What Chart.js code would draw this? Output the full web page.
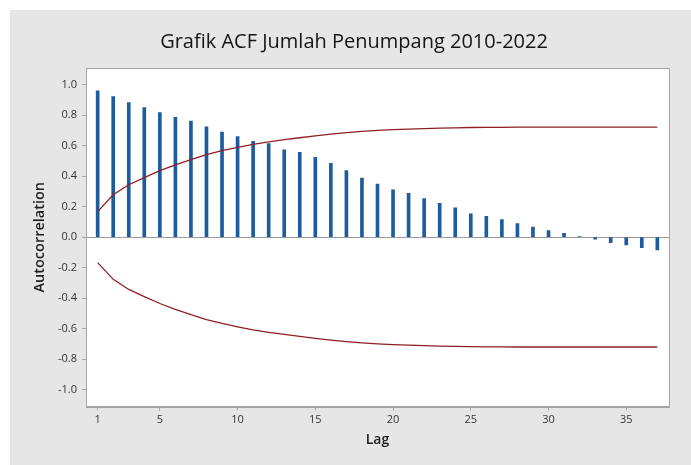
<!DOCTYPE html>
<html>
<head>
<meta charset="utf-8">
<script src="https://cdn.jsdelivr.net/npm/chart.js@4/dist/chart.umd.min.js"></script>
<style>
  html, body { margin: 0; padding: 0; background: #ffffff; }
  #wrap { position: absolute; left: 10px; top: 10px; width: 681px; height: 455px; background: #e6e6e6; }
  canvas { display: block; }
</style>
</head>
<body>
<div id="wrap"><canvas id="acf" width="681" height="455"></canvas></div>
<script>
// Autocorrelation function of monthly passenger counts, lags 1..37
const lags = [1,2,3,4,5,6,7,8,9,10,11,12,13,14,15,16,17,18,19,20,21,22,23,24,25,26,27,28,29,30,31,32,33,34,35,36,37];
const acfValues = [0.959,0.920,0.882,0.849,0.816,0.785,0.761,0.722,0.688,0.658,0.627,0.612,0.572,0.556,0.523,0.484,0.436,0.387,0.348,0.310,0.286,0.253,0.222,0.191,0.152,0.136,0.114,0.088,0.066,0.042,0.024,0.002,-0.013,-0.036,-0.051,-0.069,-0.084];
// 5% significance limits for the autocorrelations
const upperLimit = [0.167,0.277,0.343,0.390,0.435,0.473,0.508,0.540,0.566,0.588,0.608,0.624,0.638,0.651,0.663,0.675,0.685,0.693,0.699,0.704,0.708,0.711,0.714,0.716,0.718,0.719,0.719,0.720,0.720,0.720,0.720,0.720,0.720,0.720,0.720,0.720,0.720];
const lowerLimit = [-0.167,-0.277,-0.343,-0.390,-0.435,-0.473,-0.508,-0.540,-0.566,-0.588,-0.608,-0.624,-0.638,-0.651,-0.663,-0.675,-0.685,-0.693,-0.699,-0.704,-0.708,-0.711,-0.714,-0.716,-0.718,-0.719,-0.719,-0.720,-0.720,-0.720,-0.720,-0.720,-0.720,-0.720,-0.720,-0.720,-0.720];
const xTickValues = [1,5,10,15,20,25,30,35];
const yTickValues = [-1.0,-0.8,-0.6,-0.4,-0.2,0.0,0.2,0.4,0.6,0.8,1.0];
const chartTitle = 'Grafik ACF Jumlah Penumpang 2010-2022';

const pts = (ys) => lags.map((x, i) => ({ x: x, y: ys[i] }));

const FONT = '"Open Sans", "Noto Sans", "DejaVu Sans", sans-serif';
const AXIS_GRAY = '#a6a6a6';

// white plotting area with a thin frame, and the chart heading above it
const plotFrame = {
  id: 'plotFrame',
  beforeDraw(chart) {
    const { ctx, chartArea: a } = chart;
    ctx.save();
    ctx.fillStyle = '#ffffff';
    ctx.fillRect(a.left, a.top, a.right - a.left, a.bottom - a.top);
    ctx.restore();
  },
  afterDraw(chart) {
    const { ctx, chartArea: a } = chart;
    ctx.save();
    ctx.strokeStyle = AXIS_GRAY;
    ctx.lineWidth = 1;
    ctx.strokeRect(Math.round(a.left) + 0.5, Math.round(a.top) + 0.5,
                   Math.round(a.right - a.left), Math.round(a.bottom - a.top));
    ctx.fillStyle = '#151515';
    ctx.font = 'normal 20px ' + FONT;
    ctx.textAlign = 'center';
    ctx.textBaseline = 'middle';
    ctx.fillText(chartTitle, 344, 32);
    ctx.restore();
  }
};

new Chart(document.getElementById('acf'), {
  type: 'bar',
  data: {
    datasets: [
      {
        type: 'bar',
        label: 'ACF',
        data: pts(acfValues),
        backgroundColor: '#1f5c9e',
        borderWidth: 0,
        barThickness: 3,
        order: 2
      },
      {
        type: 'line',
        label: 'Upper limit',
        data: pts(upperLimit),
        borderColor: '#8e1f24',
        borderWidth: 1.3,
        pointRadius: 0,
        tension: 0,
        fill: false,
        order: 1
      },
      {
        type: 'line',
        label: 'Lower limit',
        data: pts(lowerLimit),
        borderColor: '#8e1f24',
        borderWidth: 1.3,
        pointRadius: 0,
        tension: 0,
        fill: false,
        order: 1
      }
    ]
  },
  options: {
    responsive: false,
    animation: false,
    devicePixelRatio: 1,
    layout: { padding: { left: 0, right: 22, top: 58, bottom: 0 } },
    plugins: {
      legend: { display: false },
      tooltip: { enabled: false },
      title: { display: false }
    },
    scales: {
      x: {
        type: 'linear',
        min: 0.25,
        max: 37.75,
        offset: false,
        afterBuildTicks(scale) { scale.ticks = xTickValues.map(v => ({ value: v })); },
        afterFit(scale) { scale.height = 58.5; },
        ticks: {
          color: '#333333',
          font: { family: FONT, size: 11 },
          padding: 3,
          maxRotation: 0,
          autoSkip: false,
          callback: (v) => String(v)
        },
        grid: {
          offset: false,
          drawOnChartArea: false,
          drawTicks: true,
          tickLength: 4,
          tickColor: AXIS_GRAY
        },
        border: { display: true, color: AXIS_GRAY, width: 1 },
        title: {
          display: true,
          text: 'Lag',
          color: '#1e1e1e',
          font: { family: FONT, size: 14, weight: '600', lineHeight: 1.2 },
          padding: { top: 0, bottom: 16.6 }
        }
      },
      y: {
        type: 'linear',
        min: -1.11,
        max: 1.108,
        afterBuildTicks(scale) { scale.ticks = yTickValues.map(v => ({ value: v })); },
        afterFit(scale) { scale.width = 76; },
        ticks: {
          color: '#333333',
          font: { family: FONT, size: 11 },
          padding: 5,
          autoSkip: false,
          callback: (v) => Number(v).toFixed(1)
        },
        grid: {
          drawOnChartArea: true,
          drawTicks: true,
          tickLength: 4,
          tickColor: AXIS_GRAY,
          color: (ctx) => (ctx.tick && Math.abs(ctx.tick.value) < 1e-9) ? '#9a9a9a' : 'rgba(0,0,0,0)',
          lineWidth: 1
        },
        border: { display: true, color: AXIS_GRAY, width: 1 },
        title: {
          display: true,
          text: 'Autocorrelation',
          color: '#1e1e1e',
          font: { family: FONT, size: 14.5, weight: '600', lineHeight: 1.2 },
          padding: { top: 21.6, bottom: 0 }
        }
      }
    }
  },
  plugins: [plotFrame]
});
</script>
</body>
</html>
